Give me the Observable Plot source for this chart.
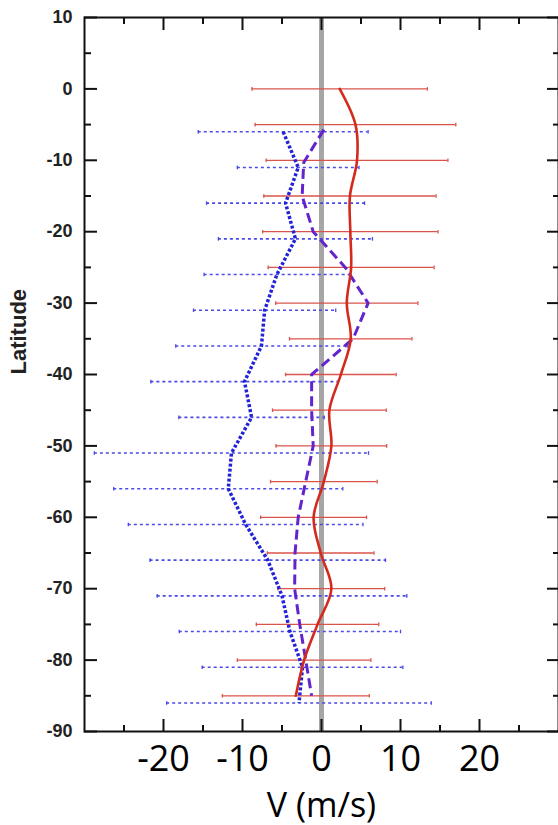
<!DOCTYPE html>
<html>
<head>
<meta charset="utf-8">
<script src="https://cdn.jsdelivr.net/npm/d3@7"></script>
<script src="https://cdn.jsdelivr.net/npm/@observablehq/plot@0.6"></script>
<style>
  html, body { margin: 0; padding: 0; background: #fff; }
  #chart svg { display: block; }
</style>
</head>
<body>
<div id="chart"></div>
<script>
// Solid red profile (with red error bars)
const redLat = [0, -5, -10, -15, -20, -25, -30, -35, -40, -45, -50, -55, -60, -65, -70, -75, -80, -85];
const redV   = [2.3, 4.3, 4.5, 3.6, 3.65, 3.75, 3.2, 3.7, 2.45, 1.0, 1.25, 0.3, -1.0, -0.1, 1.25, -0.5, -2.2, -3.25];
const redErr = [11.1, 12.7, 11.5, 10.9, 11.1, 10.5, 9.0, 7.75, 7.0, 7.2, 7.0, 6.75, 6.7, 6.75, 6.75, 7.75, 8.45, 9.3];

// Blue dotted profile (with blue dotted error bars)
const blueLat = [-6, -11, -16, -21, -26, -31, -36, -41, -46, -51, -56, -61, -66, -71, -76, -81, -86];
const blueV   = [-4.85, -2.95, -4.55, -3.3, -5.65, -7.2, -7.6, -9.75, -8.85, -11.4, -11.8, -9.6, -6.8, -5.0, -4.0, -2.4, -2.85];
const blueErr = [10.75, 7.7, 10.0, 9.75, 9.2, 9.0, 10.85, 11.85, 9.2, 17.35, 14.5, 14.85, 14.9, 15.8, 14.0, 12.7, 16.75];

// Purple dashed profile (no error bars)
const purpleLat = [-5.7, -10.3, -15, -20, -25, -30, -35, -40, -45, -50, -55, -60, -65, -70, -75, -80, -85];
const purpleV   = [0.3, -2.25, -2.45, -1.05, 3.0, 5.9, 4.0, -1.25, -1.25, -1.05, -2.0, -2.95, -3.35, -3.4, -2.75, -2.0, -1.25];

// Axis ticks / labels
const xTickLabels = [-20, -10, 0, 10, 20];
const xMinorTicks = [-25, -15, -5, 5, 15, 25];
const yTickLabels = [10, 0, -10, -20, -30, -40, -50, -60, -70, -80, -90];
const yMinorTicks = [5, -5, -15, -25, -35, -45, -55, -65, -75, -85];

const xTitle = "V (m/s)";
const yTitle = "Latitude";

const red = redLat.map((lat, i) => ({lat, v: redV[i], e: redErr[i]}));
const blue = blueLat.map((lat, i) => ({lat, v: blueV[i], e: blueErr[i]}));
const purple = purpleLat.map((lat, i) => ({lat, v: purpleV[i]}));

const capSymbol = {
  draw(ctx, size) {
    const h = Math.sqrt(size / Math.PI);
    ctx.moveTo(0, -h);
    ctx.lineTo(0, h);
  }
};

const ends = (data) => data.flatMap(d => [{lat: d.lat, x: d.v - d.e}, {lat: d.lat, x: d.v + d.e}]);

const tickFmt = d => String(d);

const chart = Plot.plot({
  width: 558,
  height: 825,
  marginTop: 17,
  marginBottom: 94,
  marginLeft: 84,
  marginRight: 0,
  style: {background: "#fff", fontFamily: "Liberation Sans, Arial, sans-serif", color: "#111"},
  x: {domain: [-30, 30], label: null},
  y: {domain: [-90, 10], label: null},
  marks: [
    Plot.ruleX([0], {stroke: "#a6a6a6", strokeWidth: 5}),
    // red error bars
    Plot.ruleY(red, {y: "lat", x1: d => d.v - d.e, x2: d => d.v + d.e, stroke: "#d9544c", strokeWidth: 1.3}),
    Plot.dot(ends(red), {x: "x", y: "lat", symbol: capSymbol, r: 1.8, stroke: "#d9544c", strokeWidth: 1.3}),
    // blue dotted error bars
    Plot.ruleY(blue, {y: "lat", x1: d => d.v - d.e, x2: d => d.v + d.e, stroke: "#4a4ae6", strokeWidth: 1.6, strokeDasharray: "3,3", strokeLinecap: "butt"}),
    Plot.dot(ends(blue), {x: "x", y: "lat", symbol: capSymbol, r: 1.8, stroke: "#4a4ae6", strokeWidth: 1.3}),
    // profiles
    Plot.line(blue, {x: "v", y: "lat", stroke: "#2222d8", strokeWidth: 3.5, strokeDasharray: "3,2", strokeLinecap: "butt", strokeLinejoin: "miter"}),
    Plot.line(purple, {x: "v", y: "lat", stroke: "#6424cc", strokeWidth: 3, strokeDasharray: "10,5", strokeLinecap: "butt", strokeLinejoin: "miter"}),
    Plot.line(red, {x: "v", y: "lat", stroke: "#d42a1e", strokeWidth: 2.6, curve: "catmull-rom"}),
    Plot.frame({stroke: "#111", strokeWidth: 2}),
    // inward ticks
    Plot.axisX(xTickLabels, {anchor: "bottom", tickSize: -12, strokeWidth: 2, fill: "none"}),
    Plot.axisX(xMinorTicks, {anchor: "bottom", tickSize: -6, strokeWidth: 2, fill: "none"}),
    Plot.axisX(xTickLabels, {anchor: "top", tickSize: -12, strokeWidth: 2, fill: "none"}),
    Plot.axisX(xMinorTicks, {anchor: "top", tickSize: -6, strokeWidth: 2, fill: "none"}),
    Plot.axisY(yTickLabels, {anchor: "left", tickSize: -13, strokeWidth: 2, fill: "none"}),
    Plot.axisY(yMinorTicks, {anchor: "left", tickSize: -7, strokeWidth: 2, fill: "none"}),
    Plot.axisY(yTickLabels, {anchor: "right", tickSize: -12, strokeWidth: 2, fill: "none"}),
    Plot.axisY(yMinorTicks, {anchor: "right", tickSize: -6, strokeWidth: 2, fill: "none"}),
    // tick labels
    Plot.axisX(xTickLabels, {anchor: "bottom", tickSize: 0, tickPadding: 14, fontSize: 36, fontFamily: "Open Sans", fill: "#000", tickFormat: tickFmt}),
    Plot.axisY(yTickLabels, {anchor: "left", tickSize: 0, tickPadding: 12, fontSize: 18, fontWeight: "bold", fill: "#222", tickFormat: tickFmt}),
    // titles
    Plot.text([yTitle], {frameAnchor: "left", dx: -66, rotate: -90, fontSize: 22, fontWeight: "bold", fill: "#222"}),
    Plot.text([xTitle], {frameAnchor: "bottom", lineAnchor: "bottom", dy: 85, fontSize: 34, fontFamily: "Open Sans", fill: "#000"})
  ]
});

document.getElementById("chart").appendChild(chart);
</script>
</body>
</html>
